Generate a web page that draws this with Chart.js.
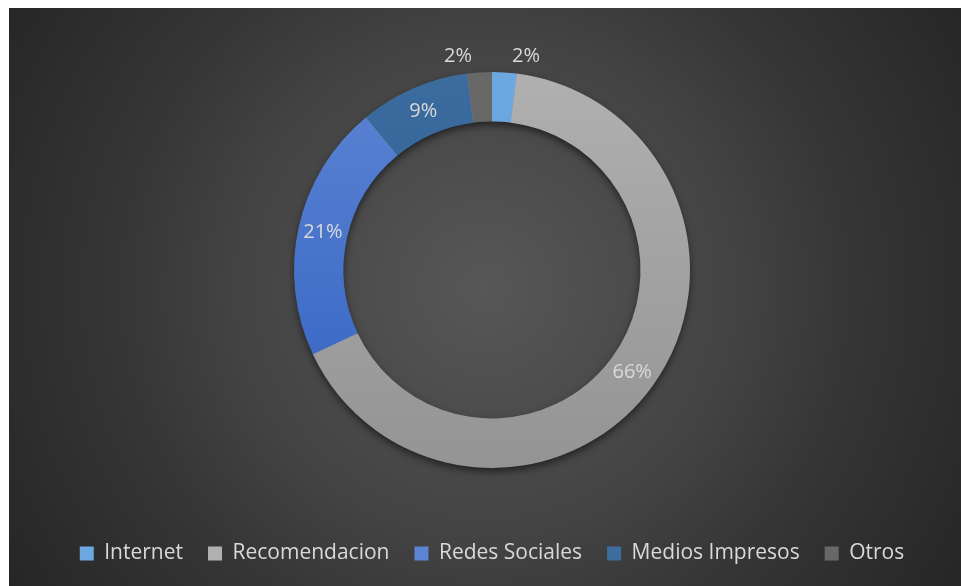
<!DOCTYPE html>
<html>
<head>
<meta charset="utf-8">
<script src="https://cdn.jsdelivr.net/npm/chart.js@4.4.1/dist/chart.umd.min.js"></script>
<style>
    html, body { margin: 0; padding: 0; background: #fff; }
    #wrapper { position: absolute; left: 9px; top: 8px; width: 952px; height: 578px; }
</style>
</head>
<body>
<div id="wrapper"><canvas id="chart"></canvas></div>
<script>
const categories = ['Internet', 'Recomendacion', 'Redes Sociales', 'Medios Impresos', 'Otros'];
const shares = [2, 66, 21, 9, 2];

// top / bottom shade of each slice
const sliceTop = ['#6da9e0', '#b0b0b0', '#5c84d4', '#3d6c9e', '#686868'];
const sliceBottom = ['#5796d2', '#949494', '#3161c0', '#1e5993', '#5e5e5e'];

const OUTER_R = 198;
const TEXT_COLOR = '#d9d9d9';

function sliceFill(ctx) {
    const i = ctx.dataIndex;
    const area = ctx.chart.chartArea;
    if (!area) return sliceTop[i];
    const cy = (area.top + area.bottom) / 2;
    const g = ctx.chart.ctx.createLinearGradient(0, cy - OUTER_R, 0, cy + OUTER_R);
    g.addColorStop(0, sliceTop[i]);
    g.addColorStop(1, sliceBottom[i]);
    return g;
}

// dark backdrop, lighter in the middle
const backdrop = {
    id: 'backdrop',
    beforeDraw(chart) {
        const { ctx, width, height } = chart;
        const g = ctx.createRadialGradient(width / 2, 280, 0, width / 2, 280, 560);
        g.addColorStop(0, '#575757');
        g.addColorStop(0.45, '#434343');
        g.addColorStop(0.65, '#363636');
        g.addColorStop(1, '#262626');
        ctx.save();
        ctx.fillStyle = g;
        ctx.fillRect(0, 0, width, height);
        ctx.restore();
    }
};

// soft shadow under the ring
const ringShadow = {
    id: 'ringShadow',
    beforeDatasetsDraw(chart) {
        const arc = chart.getDatasetMeta(0).data[0];
        if (!arc) return;
        const { x, y, innerRadius, outerRadius } = arc.getProps(['x', 'y', 'innerRadius', 'outerRadius'], true);
        const ctx = chart.ctx;
        ctx.save();
        ctx.shadowColor = 'rgba(0,0,0,0.6)';
        ctx.shadowBlur = 9;
        ctx.shadowOffsetY = 4;
        ctx.fillStyle = '#8a8a8a';
        ctx.beginPath();
        ctx.arc(x, y, outerRadius - 1, 0, Math.PI * 2);
        ctx.arc(x, y, innerRadius + 1, 0, Math.PI * 2, true);
        ctx.fill();
        ctx.restore();
    }
};

// percentage labels; tiny slices get theirs outside the ring
const sliceLabels = {
    id: 'sliceLabels',
    afterDatasetsDraw(chart) {
        const ctx = chart.ctx;
        const data = chart.data.datasets[0].data;
        const total = data.reduce((a, b) => a + b, 0);
        ctx.save();
        ctx.font = '20px "Open Sans"';
        ctx.fillStyle = TEXT_COLOR;
        ctx.textAlign = 'center';
        ctx.textBaseline = 'middle';
        chart.getDatasetMeta(0).data.forEach((arc, i) => {
            const pct = Math.round(data[i] / total * 100);
            const text = pct + '%';
            const { x, y, startAngle, endAngle, outerRadius } =
                arc.getProps(['x', 'y', 'startAngle', 'endAngle', 'outerRadius'], true);
            let px, py;
            if (pct >= 5) {
                const p = arc.tooltipPosition(true);
                px = p.x; py = p.y;
            } else {
                const mid = (startAngle + endAngle) / 2;
                const r = outerRadius + 16;
                const dx = Math.cos(mid) * r;
                px = x + Math.sign(dx) * Math.max(Math.abs(dx), 34);
                py = y + Math.sin(mid) * r;
            }
            ctx.fillText(text, px, py);
        });
        ctx.restore();
    }
};

document.addEventListener('DOMContentLoaded', () => {
    new Chart(document.getElementById('chart'), {
        type: 'doughnut',
        data: {
            labels: categories,
            datasets: [{
                data: shares,
                backgroundColor: sliceFill,
                borderWidth: 0
            }]
        },
        options: {
            responsive: true,
            maintainAspectRatio: false,
            animation: false,
            radius: OUTER_R,
            cutout: '75%',
            layout: { padding: { top: 14, left: 14, right: 0, bottom: 12 } },
            plugins: {
                tooltip: { enabled: false },
                legend: {
                    position: 'bottom',
                    labels: {
                        color: TEXT_COLOR,
                        font: { family: '"Open Sans"', size: 21 },
                        boxWidth: 14,
                        boxHeight: 14,
                        padding: 25,
                        generateLabels(chart) {
                            return chart.data.labels.map((l, i) => ({
                                text: l,
                                fillStyle: sliceTop[i],
                                strokeStyle: sliceTop[i],
                                lineWidth: 0,
                                fontColor: TEXT_COLOR,
                                index: i
                            }));
                        }
                    }
                }
            }
        },
        plugins: [backdrop, ringShadow, sliceLabels]
    });
});
</script>
</body>
</html>
